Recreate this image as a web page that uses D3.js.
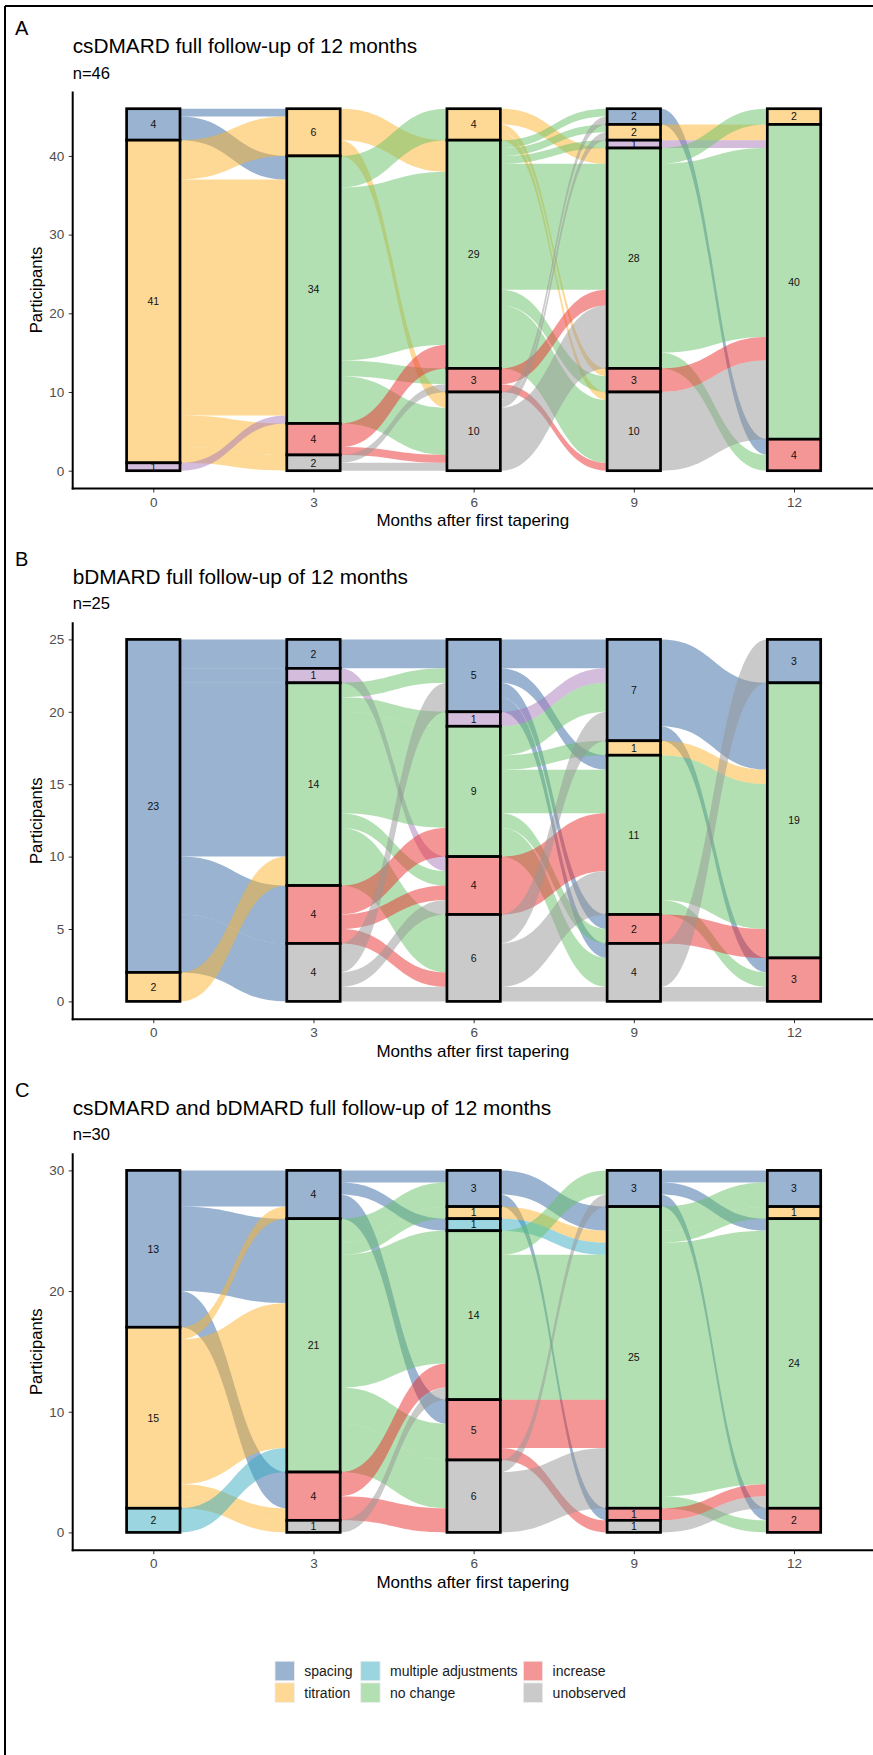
<!DOCTYPE html>
<html><head><meta charset="utf-8">
<script src="https://cdn.jsdelivr.net/npm/d3@7"></script>
<style>
body{margin:0;background:#fff}
svg{display:block;font-family:"Liberation Sans",Arial,Helvetica,sans-serif}
</style>
</head><body>
<script>
// ---------------- DATA ----------------
const categories = ["spacing","titration","other adjustment","multiple adjustments","no change","increase","unobserved"];
const catCodes   = ["S","T","O","M","N","I","U"];
const legendItems = ["spacing","titration","multiple adjustments","no change","increase","unobserved"];
const months = [0,3,6,9,12];
const monthLabels = ["0","3","6","9","12"];
const panelLetters = ["A","B","C"];
const panelTitles = ["csDMARD full follow-up of 12 months","bDMARD full follow-up of 12 months","csDMARD and bDMARD full follow-up of 12 months"];
const panelNs = ["n=46","n=25","n=30"];
const yTicksA = [0,10,20,30,40];
const yTicksB = [0,5,10,15,20,25];
const yTicksC = [0,10,20,30];

// flows: [from month, from category, to category, participants]
const flowsA = [
 [0,"S","T",1],[0,"S","N",3],[0,"T","T",5],[0,"T","N",30],[0,"T","I",4],[0,"T","U",2],[0,"O","N",1],
 [3,"T","N",4],[3,"T","U",2],[3,"N","T",4],[3,"N","N",22],[3,"N","I",2],[3,"N","U",6],[3,"I","N",3],[3,"I","U",1],[3,"U","I",1],[3,"U","U",1],
 [6,"T","N",2],[6,"T","I",1],[6,"T","U",1],[6,"N","S",1],[6,"N","T",1],[6,"N","O",1],[6,"N","N",16],[6,"N","I",2],[6,"N","U",8],[6,"I","N",2],[6,"I","U",1],[6,"U","S",1],[6,"U","T",1],[6,"U","N",8],
 [9,"S","I",2],[9,"T","N",2],[9,"O","N",1],[9,"N","T",2],[9,"N","N",24],[9,"N","I",2],[9,"I","N",3],[9,"U","N",10]
];
const flowsB = [
 [0,"S","S",2],[0,"S","O",1],[0,"S","N",12],[0,"S","I",4],[0,"S","U",4],[0,"T","N",2],
 [3,"S","S",2],[3,"O","I",1],[3,"N","S",1],[3,"N","O",1],[3,"N","N",7],[3,"N","I",1],[3,"N","U",4],[3,"I","N",2],[3,"I","I",1],[3,"I","U",1],[3,"U","S",2],[3,"U","I",1],[3,"U","U",1],
 [6,"S","S",2],[6,"S","N",1],[6,"S","I",1],[6,"S","U",1],[6,"O","S",1],[6,"N","S",2],[6,"N","T",1],[6,"N","N",3],[6,"N","I",1],[6,"N","U",2],[6,"I","N",4],[6,"U","S",2],[6,"U","N",3],[6,"U","U",1],
 [9,"S","N",6],[9,"S","I",1],[9,"T","N",1],[9,"N","N",10],[9,"N","I",1],[9,"I","N",2],[9,"U","S",3],[9,"U","I",1]
];
const flowsC = [
 [0,"S","S",3],[0,"S","N",7],[0,"S","I",3],[0,"T","S",1],[0,"T","N",12],[0,"T","I",1],[0,"T","U",1],[0,"M","N",2],
 [3,"S","S",1],[3,"S","M",1],[3,"S","I",2],[3,"N","S",2],[3,"N","T",1],[3,"N","N",11],[3,"N","I",3],[3,"N","U",4],[3,"I","N",2],[3,"I","U",2],[3,"U","N",1],
 [6,"S","N",2],[6,"S","I",1],[6,"T","N",1],[6,"M","N",1],[6,"N","S",2],[6,"N","N",12],[6,"I","N",4],[6,"I","U",1],[6,"U","S",1],[6,"U","N",5],
 [9,"S","S",1],[9,"S","N",1],[9,"S","I",1],[9,"N","S",2],[9,"N","T",1],[9,"N","N",21],[9,"N","I",1],[9,"I","N",1],[9,"U","N",1]
];

// ---------------- STYLE ----------------
const baseColors = ["#3367A3","#FBB32B","#A779B9","#35ABC1","#67C167","#EB2D2D","#959595"];
const color = d3.scaleOrdinal().domain(catCodes).range(baseColors);
const alpha = 0.5;
const W = 873, H = 1755;
const panelBase = [46, 576.7, 1107.7];
const panelFlows = [flowsA, flowsB, flowsC];
const panelTicks = [yTicksA, yTicksB, yTicksC];
const plotLeft = 72.7, plotRight = 873;
const boxW = 53.4;

const svg = d3.select("body").append("svg").attr("width", W).attr("height", H);
svg.append("rect").attr("width", W).attr("height", H).attr("fill", "#fff");

// outer frame (top and left)
svg.append("line").attr("x1",5).attr("x2",W).attr("y1",6).attr("y2",6).attr("stroke","#000").attr("stroke-width",2);
svg.append("line").attr("x1",5).attr("x2",5).attr("y1",6).attr("y2",H).attr("stroke","#000").attr("stroke-width",2);

const x = d3.scaleLinear().domain([0, 12]).range([153.3, 794]);
const catIndex = c => catCodes.indexOf(c);

panelFlows.forEach((flows, p) => {
  const base = panelBase[p];
  const g = svg.append("g");

  // strata counts per month
  const counts = months.map(() => catCodes.map(() => 0));
  flows.forEach(([m, f, t, n]) => {
    const k = months.indexOf(m);
    counts[k][catIndex(f)] += n;
    if (k === months.length - 2) counts[k + 1][catIndex(t)] += n;
  });
  const total = d3.sum(counts[0]);

  const y = d3.scaleLinear().domain([0, total]).range([base + 424.7, base + 62.7]);

  // strata tops
  const tops = counts.map(row => {
    let acc = total; return row.map(v => { const t = acc; acc -= v; return t; });
  });

  // flow stacking
  const outCursor = tops.map(r => r.slice());
  const inCursor = tops.map(r => r.slice());
  const links = flows.map(([m, f, t, n]) => ({k: months.indexOf(m), f, t, n}));
  const bySource = links.slice().sort((a, b) => a.k - b.k || catIndex(a.f) - catIndex(b.f) || catIndex(a.t) - catIndex(b.t));
  bySource.forEach(l => { l.s1 = outCursor[l.k][catIndex(l.f)]; l.s0 = l.s1 - l.n; outCursor[l.k][catIndex(l.f)] = l.s0; });
  const byTarget = links.slice().sort((a, b) => a.k - b.k || catIndex(a.t) - catIndex(b.t) || catIndex(a.f) - catIndex(b.f));
  byTarget.forEach(l => { l.d1 = inCursor[l.k + 1][catIndex(l.t)]; l.d0 = l.d1 - l.n; inCursor[l.k + 1][catIndex(l.t)] = l.d0; });

  const flowPath = l => {
    const xa = x(months[l.k]) + boxW / 2, xb = x(months[l.k + 1]) - boxW / 2, xm = (xa + xb) / 2;
    const a1 = y(l.s1), a0 = y(l.s0), b1 = y(l.d1), b0 = y(l.d0);
    return `M${xa},${a1}C${xm},${a1} ${xm},${b1} ${xb},${b1}L${xb},${b0}C${xm},${b0} ${xm},${a0} ${xa},${a0}Z`;
  };
  g.append("g").selectAll("path").data(links).join("path")
    .attr("d", flowPath).attr("fill", d => color(d.f)).attr("fill-opacity", alpha).attr("stroke", "none");

  // strata boxes
  const strata = [];
  counts.forEach((row, k) => row.forEach((v, ci) => { if (v > 0) strata.push({k, c: catCodes[ci], v, top: tops[k][ci]}); }));
  const sg = g.append("g").selectAll("g").data(strata).join("g");
  sg.append("rect").attr("x", d => x(months[d.k]) - boxW / 2).attr("width", boxW)
    .attr("y", d => y(d.top)).attr("height", d => y(d.top - d.v) - y(d.top))
    .attr("fill", "#fff");
  sg.append("rect").attr("x", d => x(months[d.k]) - boxW / 2).attr("width", boxW)
    .attr("y", d => y(d.top)).attr("height", d => y(d.top - d.v) - y(d.top))
    .attr("fill", d => color(d.c)).attr("fill-opacity", alpha)
    .attr("stroke", "#000").attr("stroke-width", 2.7);
  sg.append("text").attr("x", d => x(months[d.k])).attr("y", d => y(d.top - d.v / 2))
    .attr("dy", "0.36em").attr("text-anchor", "middle").attr("font-size", "10.5px").attr("fill", "#111")
    .text(d => d.v);

  // axes
  const yAxis = d3.axisLeft(y).tickValues(panelTicks[p]).tickSize(4).tickSizeOuter(0).tickPadding(4.5);
  const ya = g.append("g").attr("transform", `translate(${plotLeft},0)`).call(yAxis);
  ya.select(".domain").remove();
  ya.selectAll(".tick line").attr("stroke", "#333").attr("stroke-width", 1);
  ya.selectAll(".tick text").attr("font-size", "13.5px").attr("fill", "#4D4D4D").attr("font-family", "Liberation Sans, Arial, sans-serif");

  const axisY = base + 442.5;
  const xAxis = d3.axisBottom(x).tickValues(months).tickFormat((d, i) => monthLabels[i]).tickSize(4).tickSizeOuter(0).tickPadding(4.5);
  const xa = g.append("g").attr("transform", `translate(0,${axisY})`).call(xAxis);
  xa.select(".domain").remove();
  xa.selectAll(".tick line").attr("stroke", "#333").attr("stroke-width", 1);
  xa.selectAll(".tick text").attr("font-size", "13.5px").attr("fill", "#4D4D4D").attr("font-family", "Liberation Sans, Arial, sans-serif");

  g.append("line").attr("x1", plotLeft).attr("x2", plotLeft).attr("y1", base + 45.5).attr("y2", axisY + 1)
    .attr("stroke", "#000").attr("stroke-width", 2);
  g.append("line").attr("x1", plotLeft - 1).attr("x2", plotRight).attr("y1", axisY).attr("y2", axisY)
    .attr("stroke", "#000").attr("stroke-width", 2);

  // texts
  g.append("text").attr("x", 15).attr("y", base - 18).attr("dy", "0.36em").attr("font-size", "20px").attr("fill", "#000").text(panelLetters[p]);
  g.append("text").attr("x", plotLeft).attr("y", base).attr("dy", "0.36em").attr("font-size", "20.8px").attr("fill", "#000").text(panelTitles[p]);
  g.append("text").attr("x", plotLeft).attr("y", base + 26.7).attr("dy", "0.36em").attr("font-size", "16.6px").attr("fill", "#000").text(panelNs[p]);
  g.append("text").attr("transform", `translate(36,${base + 244}) rotate(-90)`).attr("dy", "0.36em")
    .attr("text-anchor", "middle").attr("font-size", "16.6px").attr("fill", "#000").text("Participants");
  g.append("text").attr("x", (plotLeft + plotRight) / 2).attr("y", base + 474).attr("dy", "0.36em")
    .attr("text-anchor", "middle").attr("font-size", "17px").attr("fill", "#000").text("Months after first tapering");
});

// legend
const legendCols = [275, 360.7, 523.3];
const legendRows = [1671, 1692.7];
const lg = svg.append("g");
legendItems.forEach((name, i) => {
  const col = Math.floor(i / 2), row = i % 2;
  const code = catCodes[categories.indexOf(name)];
  lg.append("rect").attr("x", legendCols[col]).attr("y", legendRows[row] - 9.8).attr("width", 19.4).attr("height", 19.6)
    .attr("fill", color(code)).attr("fill-opacity", alpha).attr("stroke", "#eee").attr("stroke-width", 0.8);
  lg.append("text").attr("x", legendCols[col] + 29.3).attr("y", legendRows[row]).attr("dy", "0.36em")
    .attr("font-size", "14px").attr("fill", "#1a1a1a").text(name);
});
</script>
</body></html>
